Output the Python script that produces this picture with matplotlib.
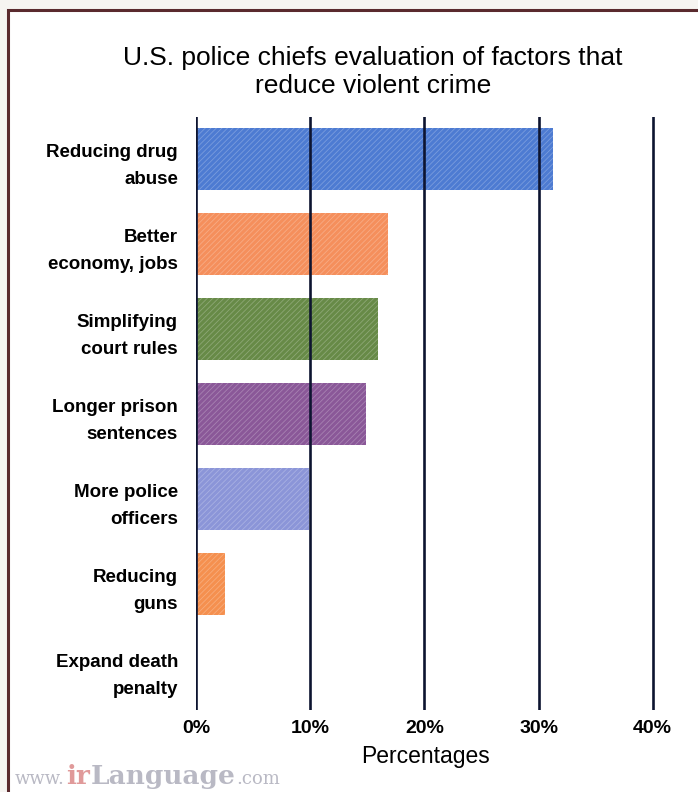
import matplotlib
matplotlib.use("Agg")
import matplotlib.pyplot as plt
from matplotlib.patches import Rectangle

categories = ["Reducing drug\nabuse", "Better\neconomy, jobs", "Simplifying\ncourt rules",
              "Longer prison\nsentences", "More police\nofficers", "Reducing\nguns",
              "Expand death\npenalty"]
values = [31.3, 16.8, 15.9, 14.9, 9.9, 2.5, 0.0]
colors = ["#4d7bd2", "#f58f5c", "#678a47", "#8a5898", "#8b95d8", "#f5904f", "#f5904f"]
xticks = [0, 10, 20, 30, 40]
xticklabels = ["0%", "10%", "20%", "30%", "40%"]
title = "U.S. police chiefs evaluation of factors that\nreduce violent crime"

plt.rcParams['font.family'] = ['Liberation Sans', 'DejaVu Sans']
plt.rcParams['hatch.linewidth'] = 0.6

fig = plt.figure(figsize=(6.98, 7.92), dpi=100)
fig.patch.set_facecolor("#f6f4f1")
# frame
fig.patches.append(Rectangle((8/698, -0.01), 1.0, 1 - 10/792 + 0.01, transform=fig.transFigure,
                             facecolor="white", edgecolor="#5a2a2e", linewidth=2.2, zorder=-10))

ax = fig.add_axes([196/698, 1 - 710/792, (655 - 196)/698, (710 - 117)/792])
ax.set_facecolor("white")
ypos = list(range(len(categories)))
for y, v, c in zip(ypos, values, colors):
    ax.barh(y, v, height=0.73, color=c, edgecolor=(1, 1, 1, 0.25), linewidth=0,
            hatch="//////", zorder=1)
ax.set_ylim(6.48, -0.5)
ax.set_xlim(0, 40.2)
for x in xticks:
    ax.axvline(x, color="#0d1430", linewidth=1.9, zorder=3)
ax.set_xticks(xticks)
ax.set_xticklabels(xticklabels, fontsize=14, fontweight="bold")
ax.set_yticks(ypos)
ax.set_yticklabels(categories, fontsize=13.5, fontweight="bold", linespacing=1.75)
ax.tick_params(axis="both", length=0)
ax.tick_params(axis="y", pad=13)
ax.tick_params(axis="x", pad=7)
for s in ax.spines.values():
    s.set_visible(False)
ax.set_xlabel("Percentages", fontsize=16.5, labelpad=6)
fig.text(373/698, 1 - 72/792, title, fontsize=19, ha="center", va="center", linespacing=1.22)

# watermark, pieces placed one after another
renderer = fig.canvas.get_renderer()
xpix = 15
ybase = 1 - 784/792
pieces = [("www.", 13, "#b9b9c4", "normal"), ("ir", 19, "#e09a9a", "bold"),
          ("Language", 19, "#b9b9c4", "bold"), (".com", 13, "#b9b9c4", "normal")]
for s, fs, c, fw in pieces:
    t = fig.text(xpix/698, ybase, s, fontsize=fs, family="DejaVu Serif", color=c,
                 fontweight=fw, va="baseline")
    xpix += t.get_window_extent(renderer).width + 1

fig.savefig("out.png", dpi=100, facecolor=fig.get_facecolor())
